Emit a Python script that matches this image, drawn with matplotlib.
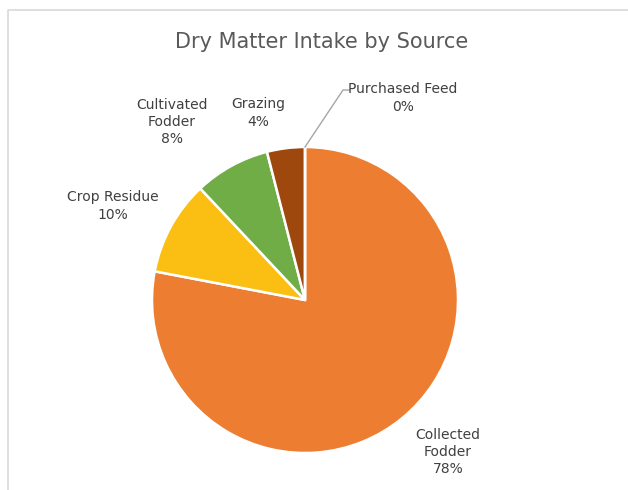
import numpy as np
from matplotlib import pyplot as plt

# 数据
sources = ['Collected\nFodder', 'Crop Residue', 'Cultivated\nFodder', 'Grazing', 'Purchased Feed']
shares = [78, 10, 8, 4, 0]
colors = ['#ED7D31', '#FBBF14', '#70AD47', '#9E480E', '#5B9BD5']

# 标签位置 (像素, 以左上角为原点)
label_pos = [(448, 452), (113, 206), (172, 122), (258, 113), (403, 98)]

W, H = 628, 490
fig = plt.figure(figsize=(W / 100, H / 100), dpi=100)
ax = fig.add_axes([0, 0, 1, 1])
ax.set_xlim(0, W)
ax.set_ylim(0, H)
ax.set_aspect('equal')
ax.axis('off')

# 图表边框
ax.plot([8, 8, W + 5], [-5, H - 10, H - 10], color='#D9D9D9', lw=1.2)

cx, cy, r = 305, H - 300, 153
wedges, _ = ax.pie(shares, colors=colors, startangle=90, counterclock=False,
                   center=(cx, cy), radius=r, frame=True,
                   wedgeprops=dict(edgecolor='white', linewidth=1.8))
ax.set_xlim(0, W)
ax.set_ylim(0, H)
ax.axis('off')

# 标签
for name, val, (x, y) in zip(sources, shares, label_pos):
    ax.text(x, H - y, f'{name}\n{val}%', ha='center', va='center',
            fontsize=10, color='#404040', linespacing=1.3)

# Purchased Feed 引线
ang = np.deg2rad(90 - 360 * sum(shares[:4]) / sum(shares))
x0, y0 = cx + r * np.cos(ang), cy + r * np.sin(ang)
ax.plot([x0, 343, 349], [y0, H - 90, H - 90], color='#A6A6A6', lw=1)

ax.text(322, H - 42, 'Dry Matter Intake by Source', ha='center', va='center',
        fontsize=15, color='#595959')

plt.savefig('out.png', dpi=100)
